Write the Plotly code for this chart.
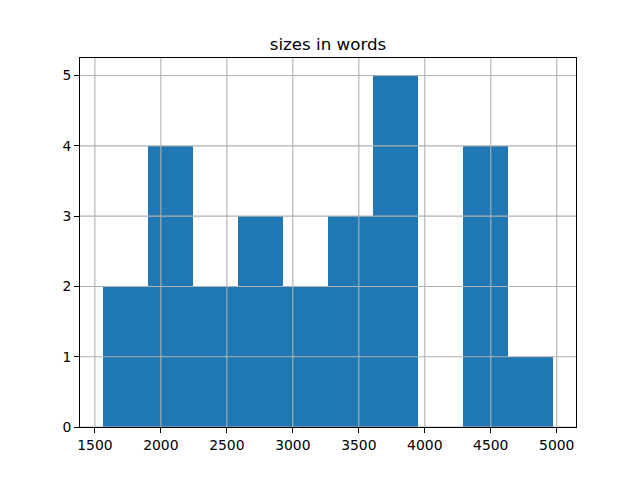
import plotly.graph_objects as go

title = "sizes in words"
bin_edges = [1558, 1900, 2242, 2583, 2925, 3267, 3608, 3950, 4292, 4633, 4975]
counts = [2, 4, 2, 3, 2, 3, 5, 0, 4, 1]
x_ticks = [1500, 2000, 2500, 3000, 3500, 4000, 4500, 5000]
y_ticks = [0, 1, 2, 3, 4, 5]

centers = [(a + b) / 2 for a, b in zip(bin_edges[:-1], bin_edges[1:])]
widths = [b - a for a, b in zip(bin_edges[:-1], bin_edges[1:])]

fig = go.Figure(go.Bar(x=centers, y=counts, width=widths,
                       marker=dict(color="#1f77b4", line=dict(width=0))))

span = bin_edges[-1] - bin_edges[0]
xr = [bin_edges[0] - 0.05 * span, bin_edges[-1] + 0.05 * span]
yr = [0, max(counts) * 1.05]

shapes = []
for t in x_ticks:
    shapes.append(dict(type="line", xref="x", yref="paper", x0=t, x1=t, y0=0, y1=1,
                       line=dict(color="#b0b0b0", width=1.1), layer="above"))
for t in y_ticks:
    shapes.append(dict(type="line", xref="paper", yref="y", x0=0, x1=1, y0=t, y1=t,
                       line=dict(color="#b0b0b0", width=1.1), layer="above"))

W, H = 632, 472
L, R, T, B = 72, 64, 50, 53
font = dict(family="DejaVu Sans", size=13.9, color="black")
fig.update_layout(
    width=W, height=H, margin=dict(l=L, r=R, t=T, b=B, autoexpand=False),
    paper_bgcolor="white", plot_bgcolor="white", showlegend=False,
    title=dict(text=title, x=(L + (W - R)) / 2 / W, xanchor="center",
               y=1 - 42 / H, yanchor="bottom",
               font=dict(family="DejaVu Sans", size=16.7, color="black")),
    font=font, shapes=shapes,
    xaxis=dict(range=xr, tickvals=x_ticks, showgrid=False, zeroline=False,
               showline=True, mirror=True, linecolor="black", linewidth=1,
               ticks="outside", ticklen=5, tickwidth=1, tickcolor="black", tickfont=font),
    yaxis=dict(range=yr, tickvals=y_ticks, showgrid=False, zeroline=False,
               showline=True, mirror=True, linecolor="black", linewidth=1,
               ticks="outside", ticklen=5, tickwidth=1, tickcolor="black", tickfont=font),
    bargap=0,
)
fig.write_html("out.html")
